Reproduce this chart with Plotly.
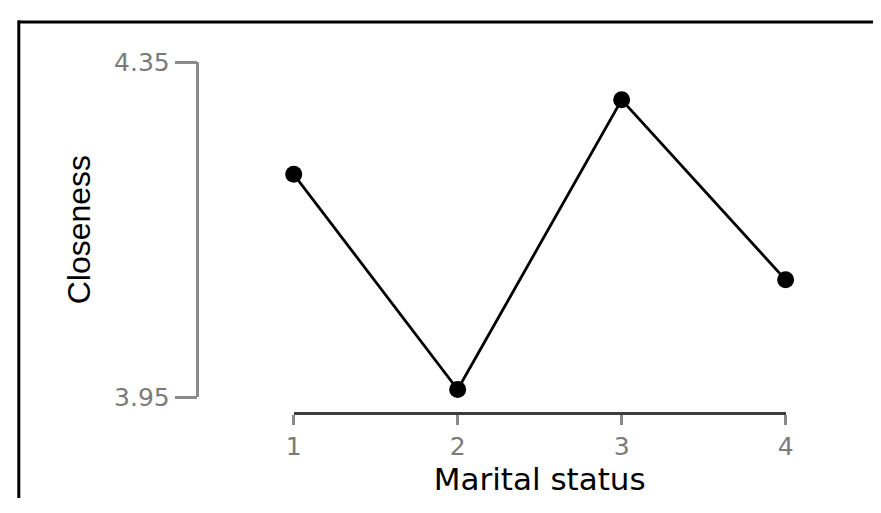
import plotly.graph_objects as go

W, H = 881, 513

# data
marital_status = [1, 2, 3, 4]
closeness = [4.216, 3.959, 4.305, 4.090]
y_ticks = [3.95, 4.35]
y_tick_labels = ["3.95", "4.35"]


def px_x(p):
    return p / W


def px_y(p):
    # pixel measured from top -> paper fraction from bottom
    return 1 - p / H


fig = go.Figure()

fig.add_trace(go.Scatter(
    x=marital_status,
    y=closeness,
    mode="lines+markers",
    line=dict(color="black", width=2.8),
    marker=dict(color="black", size=17),
    cliponaxis=False,
    showlegend=False,
))

tick_font = dict(family="DejaVu Sans", size=25, color="#7a7a7a")

fig.update_layout(
    width=W,
    height=H,
    margin=dict(l=0, r=0, t=0, b=0),
    paper_bgcolor="white",
    plot_bgcolor="white",
    xaxis=dict(
        domain=[px_x(291), px_x(792)],
        range=[1, 4],
        anchor="free",
        position=px_y(423),
        tickvals=marital_status,
        ticktext=[str(v) for v in marital_status],
        ticks="outside",
        ticklen=10,
        tickwidth=2.5,
        tickcolor="#8a8a8a",
        showline=True,
        linecolor="#3c3c3c",
        linewidth=2.5,
        showgrid=False,
        zeroline=False,
        tickfont=tick_font,
        title=dict(text="Marital status",
                   font=dict(family="DejaVu Sans", size=31, color="black"),
                   standoff=2),
    ),
    yaxis=dict(
        domain=[px_y(406), px_y(51)],
        range=[3.95, 4.35],
        anchor="free",
        position=px_x(193),
        tickvals=y_ticks,
        ticktext=y_tick_labels,
        ticks="outside",
        ticklen=22,
        tickwidth=2.5,
        tickcolor="#8a8a8a",
        showline=True,
        linecolor="#8a8a8a",
        linewidth=2.5,
        showgrid=False,
        zeroline=False,
        tickfont=tick_font,
        title=dict(text="Closeness",
                   font=dict(family="Liberation Sans", size=32, color="black"),
                   standoff=12),
    ),
    shapes=[
        dict(type="line", xref="paper", yref="paper",
             x0=px_x(10), x1=1, y0=px_y(8.5), y1=px_y(8.5),
             line=dict(color="black", width=3)),
        dict(type="line", xref="paper", yref="paper",
             x0=px_x(11), x1=px_x(11), y0=px_y(7), y1=0,
             line=dict(color="black", width=3)),
    ],
)

# drop the default body margin so the fixed-size figure fits the window
fig.write_html("out.html",
               config={"displayModeBar": False},
               post_script="document.body.style.margin='0';document.body.style.overflow='hidden';")
